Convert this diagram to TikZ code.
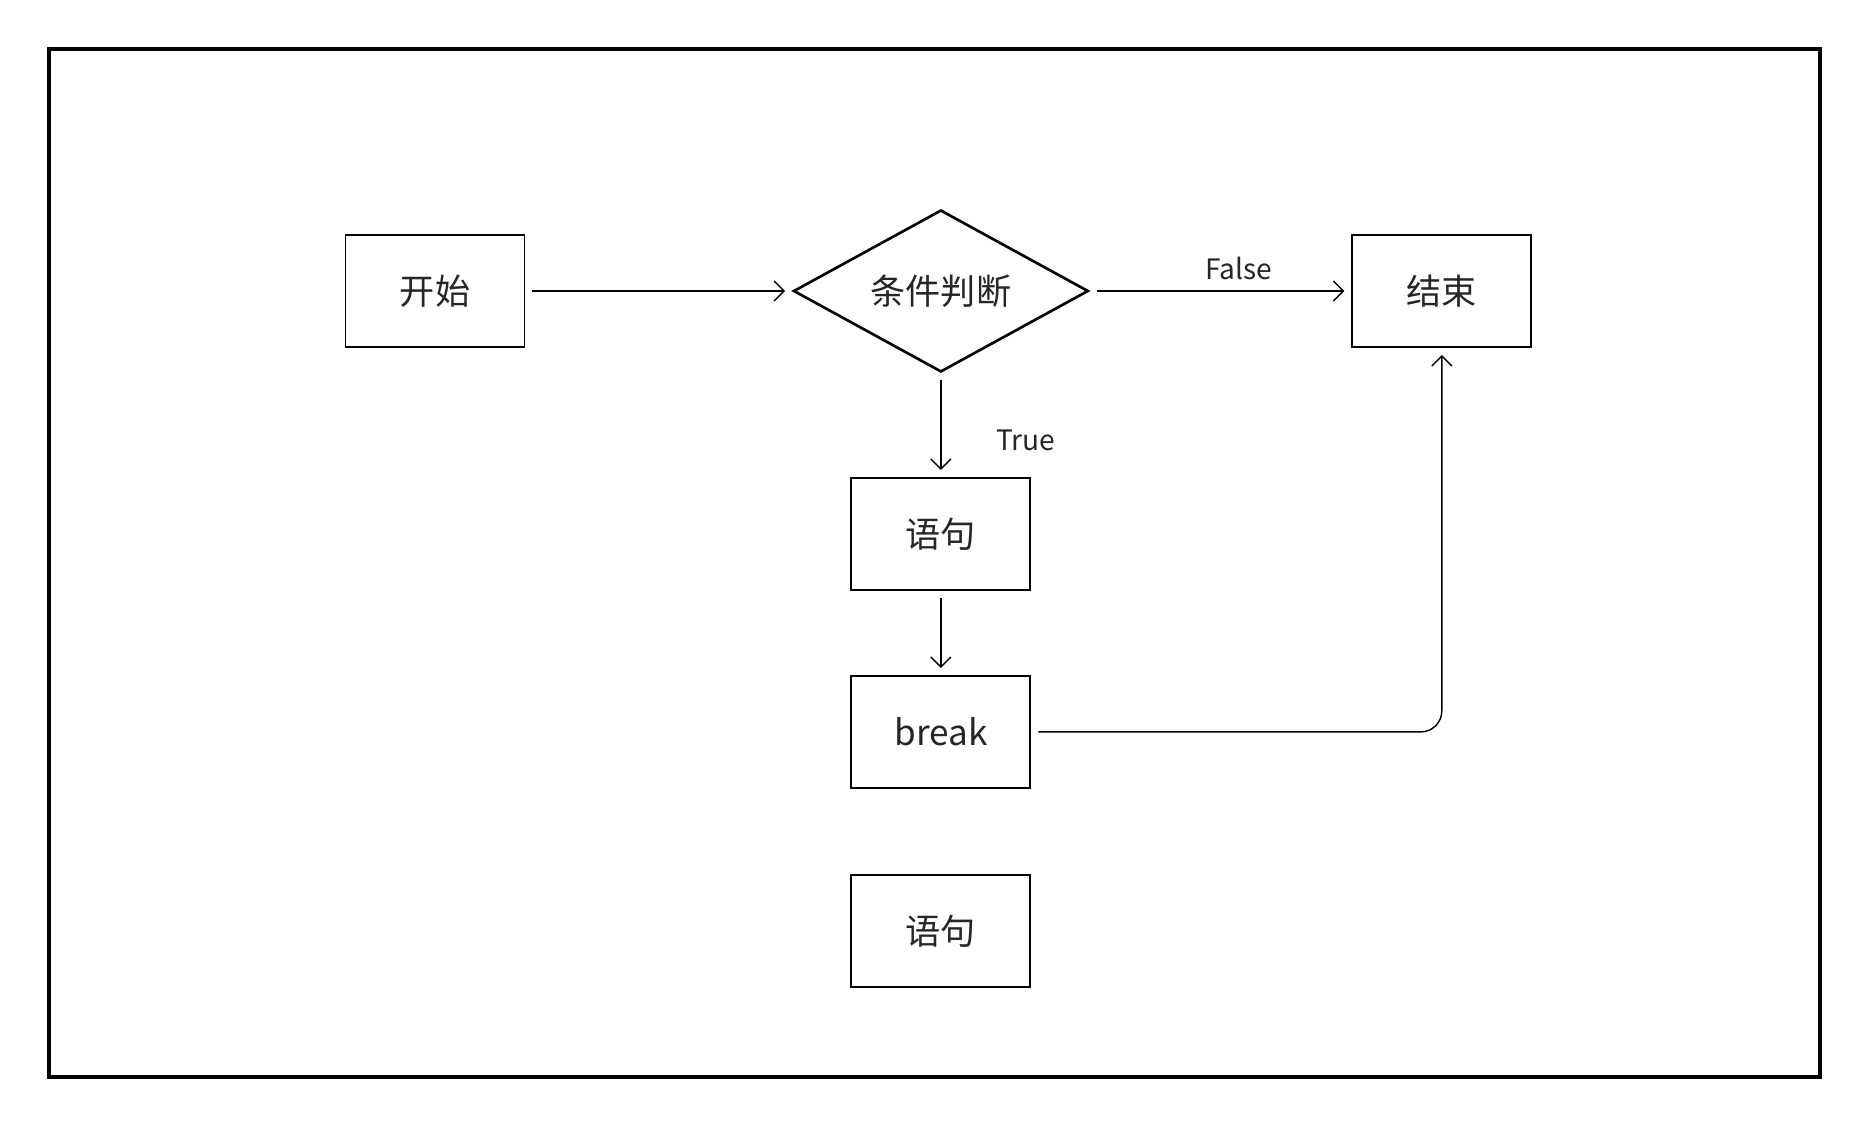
\documentclass[tikz,border=0pt]{standalone}
\usepackage{fontspec}
\newfontfamily\cjkfont{Noto Sans CJK SC}
\usepackage{tikz}
\usetikzlibrary{shapes,shapes.geometric,arrows.meta,calc,positioning}
\definecolor{textdark}{RGB}{38,38,38}

\begin{document}
\begin{tikzpicture}[%
>={Straight Barb[length=2mm,width=4mm]},
x=0.02cm, y=-0.02cm,
node distance=4cm,
on grid,
auto,
box/.style={draw, line width=1.1pt, minimum width=3.58cm, minimum height=2.24cm, font=\cjkfont\fontsize{20}{24}\selectfont, text=textdark},
cond/.style={diamond, draw, line width=1.5pt, aspect=2, inner sep=0pt, minimum width=5.9cm, minimum height=3.24cm, font=\cjkfont\fontsize{20}{24}\selectfont, text=textdark},
lbl/.style={font=\cjkfont\fontsize{16}{19}\selectfont, text=textdark},
link/.style={->, line width=0.8pt, shorten <=4pt, shorten >=4pt}
]
\useasboundingbox (0,0) rectangle (1870,1128);
\draw[line width=2.3pt] (49,49) rectangle (1820,1077);

\node[box] (start) at (435,291) {开始};
\node[cond] (cond) [right=10.12cm of start] {条件判断};
\node[box] (end) [right=10.02cm of cond] {结束};
\node[box] (stmt1) [below=4.86cm of cond] {语句};
\node[box] (brk) [below=3.96cm of stmt1] {break};
\node[box] (stmt2) [below=3.98cm of brk] {语句};

% yes / no branches
\path[link] (start) edge (cond);
\path[link] (cond) edge node[lbl, pos=0.57, yshift=0.1cm] {False} (end);
\path[link] (cond) edge node[lbl, pos=0.65, right=0.98cm] {True} (stmt1);
\path[link] (stmt1) edge (brk);
\draw[link, rounded corners=0.42cm] (brk) -| (end);
\end{tikzpicture}
\end{document}
